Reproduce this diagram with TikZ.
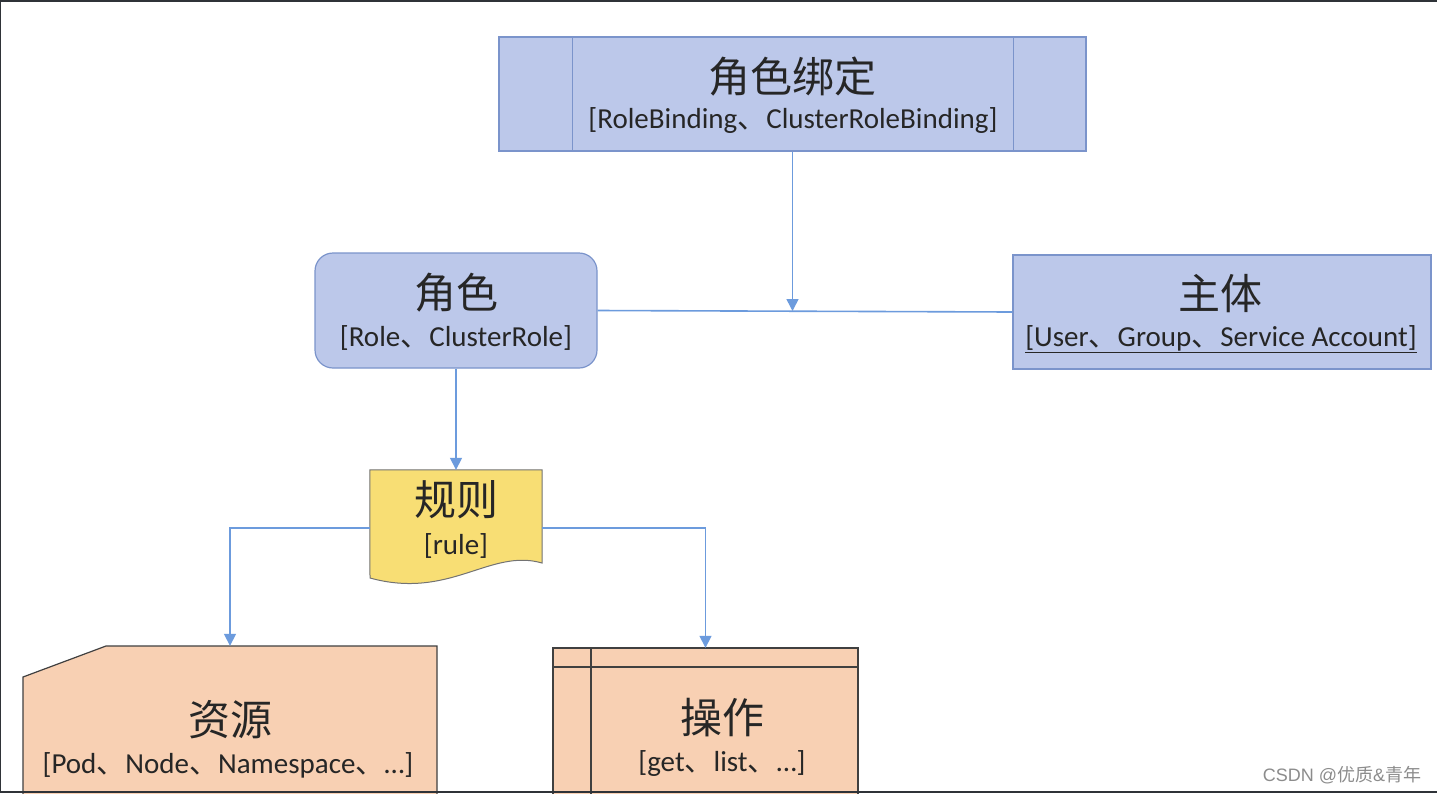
\documentclass[tikz,border=0pt]{standalone}
\usepackage{fontspec}
\setmainfont{Carlito}
\newfontfamily\cjk{Noto Sans CJK SC}
\newfontfamily\wmfont{Liberation Sans}
\usetikzlibrary{arrows.meta}
\definecolor{bfill}{HTML}{BCC8EA}
\definecolor{bdraw}{HTML}{7B94CB}
\definecolor{connc}{HTML}{6C9BDD}
\definecolor{yfill}{HTML}{F8DE74}
\definecolor{pfill}{HTML}{F8D0B3}
\definecolor{framec}{HTML}{2F3338}
\definecolor{txt}{HTML}{262626}
\newcommand{\dn}{{\cjk 、}}
\tikzset{
  bluebox/.style={draw=bdraw, fill=bfill, line width=1.2pt, inner sep=0pt},
  ghost/.style={draw=none, inner sep=0pt},
  title/.style={font=\cjk\fontsize{42}{46}\selectfont, text=txt, inner sep=0pt},
  subt/.style={font=\fontsize{29}{32}\selectfont, text=txt, inner sep=0pt},
  connline/.style={draw=connc, line width=1.6pt},
  arr/.style={connline, -{Triangle[width=12pt,length=12pt]}},
  darkline/.style={draw=black!75, line width=1.2pt}
}
\begin{document}
\begin{tikzpicture}[x=1pt,y=-1pt]
\useasboundingbox (0,0) rectangle (1437,793);
\fill[white] (0,0) rectangle (1437,793);

% top: role binding
\node[bluebox, minimum width=587, minimum height=114] (bind) at (792.5,94) {};
\draw[bdraw, line width=1.2pt] ([xshift=74]bind.north west) -- ([xshift=74]bind.south west);
\draw[bdraw, line width=1.2pt] ([xshift=-73]bind.north east) -- ([xshift=-73]bind.south east);
\node[title] (bindT) at (792,77) {角色绑定};
\node[subt] (bindS) at (793,121) {[RoleBinding\dn ClusterRoleBinding]};

% role
\node[bluebox, rounded corners=18, minimum width=282, minimum height=115] (role) at (456,310.5) {};
\node[title] (roleT) at (456,293) {角色};
\node[subt] (roleS) at (456,338) {[Role\dn ClusterRole]};

% subject
\node[bluebox, minimum width=418, minimum height=114] (subj) at (1222,312) {};
\node[title] (subjT) at (1220,294) {主体};
\node[subt] (subjS) at (1221,339) {\underline{[User\dn Group\dn Service Account]}};

% connectors top
\coordinate (j) at (792.5,311);
\draw[connline] (role.east) -- (subj.west);
\draw[arr] (bind.south) -- (j);

% rule (document shape)
\node[ghost, minimum width=172, minimum height=116] (rule) at (456,528) {};
\draw[draw=black!55, fill=yfill, line width=1pt] (rule.north west) -- (rule.north east) -- (542,563)
  .. controls (490,548) and (450,600) .. (370,578) -- cycle;
\node[title] (ruleT) at (456,500) {规则};
\node[subt] (ruleS) at (456,546) {[rule]};
\draw[arr] (role.south) -- (rule.north);

% resources
\node[ghost, minimum width=414, minimum height=144] (res) at (230,718) {};
\draw[darkline, fill=pfill] (23,677) -- (106,646) -- (437,646) -- (437,795) -- (23,795) -- cycle;
\node[title] (resT) at (230,720) {资源};
\node[subt] (resS) at (228,765) {[Pod\dn Node\dn Namespace\dn …]};

% operations
\node[ghost, minimum width=305, minimum height=142] (op) at (705.5,719) {};
\draw[darkline, fill=pfill] (553,648) -- (858,648) -- (858,795) -- (553,795) -- cycle;
\draw[darkline] (553,667) -- (858,667);
\draw[darkline] (591,648) -- (591,795);
\node[title] (opT) at (722,718) {操作};
\node[subt] (opS) at (722,763) {[get\dn list\dn …]};

\draw[arr] (rule.west) -| (res.north);
\draw[arr] (rule.east) -| (op.north);

% watermark
\node[font=\fontsize{18}{20}\selectfont, text=black!45, inner sep=0pt] (wm) at (1342,775) {{\wmfont CSDN @}{\cjk 优质}{\wmfont\&}{\cjk 青年}};

% screenshot frame
\fill[framec] (0,0) rectangle (1437,2);
\fill[framec] (0,0) rectangle (1,793);
\fill[framec] (0,790.5) rectangle (1437,793);
\end{tikzpicture}
\end{document}
